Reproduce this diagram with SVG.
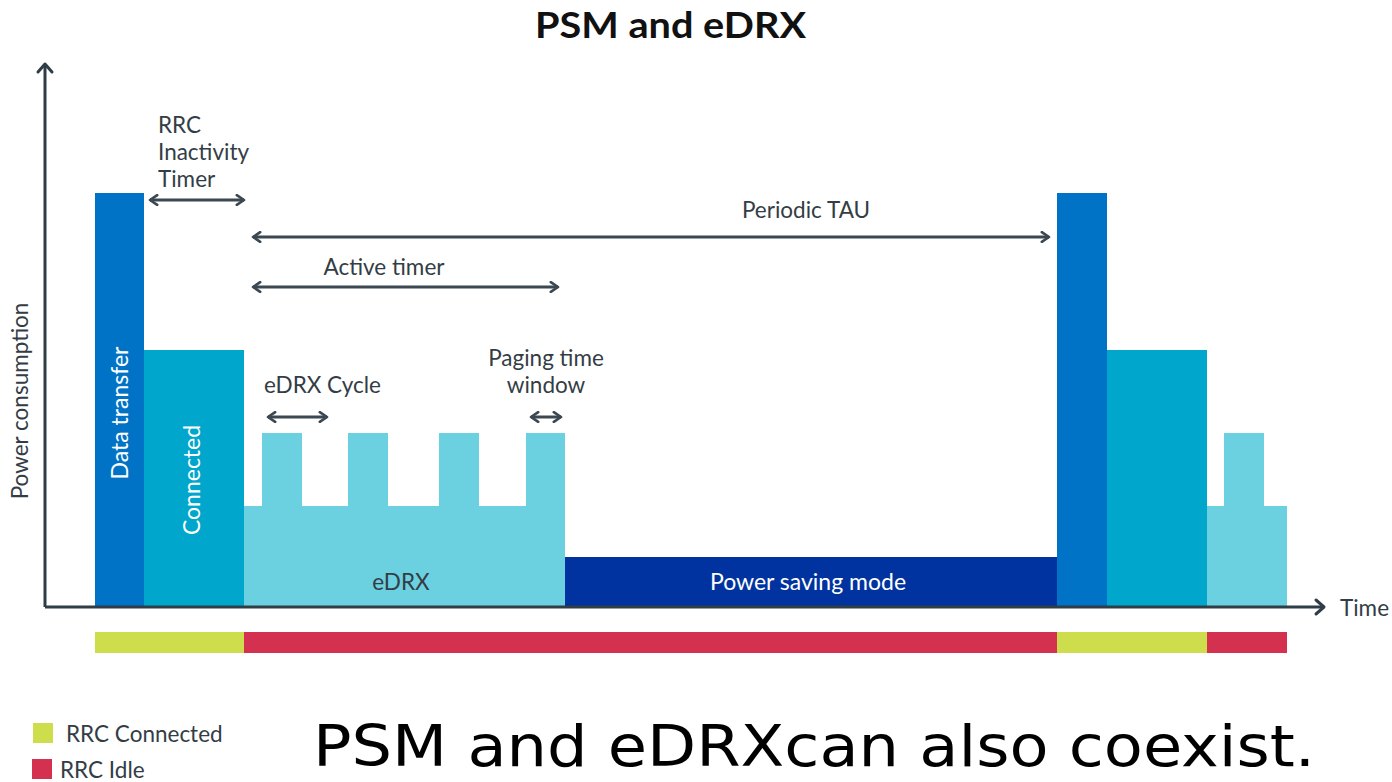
<svg xmlns="http://www.w3.org/2000/svg" width="1392" height="782" viewBox="0 0 1392 782">
  <style>
    .lbl { font-family: Lato, "Open Sans", "Liberation Sans", sans-serif; fill: #333d45; font-size: 22.5px; }
    .in { font-family: Lato, "Open Sans", "Liberation Sans", sans-serif; fill: #ffffff; font-size: 23px; }
    .axis { stroke: #2f3d47; stroke-width: 3; fill: none; }
    .dim { stroke: #3b4852; stroke-width: 3; fill: none; marker-start: url(#head); marker-end: url(#head); }
    .data { fill: #0073c6; }
    .conn { fill: #00a6cb; }
    .edrx { fill: #6bd0e0; }
    .psm { fill: #0033a0; }
    .rrcc { fill: #cedd4b; }
    .rrci { fill: #d3314f; }
  </style>
  <defs>
    <marker id="head" viewBox="0 0 10 10" refX="8" refY="5" markerWidth="4" markerHeight="4" orient="auto-start-reverse" markerUnits="strokeWidth">
      <path d="M2,1 L8,5 L2,9" fill="none" stroke="#3b4852" stroke-width="2.2" stroke-linecap="round" stroke-linejoin="round"/>
    </marker>
  </defs>
  <rect width="1392" height="782" fill="#ffffff"/>

  <text x="535" y="38" font-family="Lato, 'Open Sans', 'Liberation Sans', sans-serif" font-weight="bold" font-size="36" fill="#111111" textLength="271" lengthAdjust="spacingAndGlyphs">PSM and eDRX</text>

  <!-- power profile blocks -->
  <g id="data-transfer-1"><rect class="data" x="95" y="193" width="49" height="414"/>
    <text class="in" transform="translate(128,413) rotate(-90)" text-anchor="middle">Data transfer</text></g>
  <g id="connected-1"><rect class="conn" x="144" y="350" width="100" height="257"/>
    <text class="in" transform="translate(200,480) rotate(-90)" text-anchor="middle">Connected</text></g>
  <g id="edrx-1">
    <path class="edrx" d="M244,506 H262 V433 H302 V506 H348 V433 H388 V506 H439 V433 H479 V506 H526 V433 H565 V607 H244 Z"/>
    <text class="lbl" x="401" y="590" text-anchor="middle">eDRX</text></g>
  <g id="psm"><rect class="psm" x="565" y="557" width="492" height="50"/>
    <text class="in" x="808" y="590" text-anchor="middle">Power saving mode</text></g>
  <g id="data-transfer-2"><rect class="data" x="1057" y="193" width="50" height="414"/></g>
  <g id="connected-2"><rect class="conn" x="1107" y="350" width="100" height="257"/></g>
  <g id="edrx-2"><path class="edrx" d="M1207,506 H1224 V433 H1264 V506 H1287 V607 H1207 Z"/></g>

  <!-- RRC state strip -->
  <g id="rrc-strip">
    <rect class="rrcc" x="95" y="632" width="149" height="21"/>
    <rect class="rrci" x="244" y="632" width="813" height="21"/>
    <rect class="rrcc" x="1057" y="632" width="150" height="21"/>
    <rect class="rrci" x="1207" y="632" width="80" height="21"/>
  </g>

  <!-- axes -->
  <g id="axes">
    <path class="axis" d="M45,607 V64"/>
    <path class="axis" d="M38,72 L45,64 L52,72" stroke-linecap="round" stroke-linejoin="round"/>
    <path class="axis" d="M45,607 H1324"/>
    <path class="axis" d="M1316,600 L1324,607 L1316,614" stroke-linecap="round" stroke-linejoin="round"/>
    <text class="lbl" x="1340" y="616" font-size="21" fill="#222222">Time</text>
    <text class="lbl" transform="translate(28,401) rotate(-90)" text-anchor="middle" font-size="22" fill="#222222">Power consumption</text>
  </g>

  <!-- timing connectors -->
  <g id="connectors">
    <line class="dim" x1="150" y1="200" x2="244" y2="200"/>
    <line class="dim" x1="253" y1="237" x2="1049" y2="237"/>
    <line class="dim" x1="253" y1="287" x2="558" y2="287"/>
    <line class="dim" x1="268" y1="417" x2="327" y2="417"/>
    <line class="dim" x1="531" y1="417" x2="561" y2="417"/>
  </g>

  <g id="timer-labels">
    <text class="lbl" x="158" y="133">RRC</text>
    <text class="lbl" x="158" y="160">Inactivity</text>
    <text class="lbl" x="158" y="187">Timer</text>
    <text class="lbl" x="806" y="218" text-anchor="middle">Periodic TAU</text>
    <text class="lbl" x="384" y="275" text-anchor="middle">Active timer</text>
    <text class="lbl" x="264" y="393">eDRX Cycle</text>
    <text class="lbl" x="546" y="366" text-anchor="middle">Paging time</text>
    <text class="lbl" x="546" y="393" text-anchor="middle">window</text>
  </g>

  <!-- legend -->
  <g id="legend">
    <rect class="rrcc" x="33" y="723" width="20" height="20"/>
    <text class="lbl" x="66" y="742" fill="#4a545c">RRC Connected</text>
    <rect class="rrci" x="32" y="759" width="20" height="20"/>
    <text class="lbl" x="60" y="778" fill="#4a545c">RRC Idle</text>
  </g>

  <text x="313" y="766" font-family="'DejaVu Sans Condensed', 'DejaVu Sans', sans-serif" font-stretch="condensed" font-size="57" fill="#000000" textLength="1002" lengthAdjust="spacingAndGlyphs">PSM and eDRXcan also coexist.</text>
</svg>
